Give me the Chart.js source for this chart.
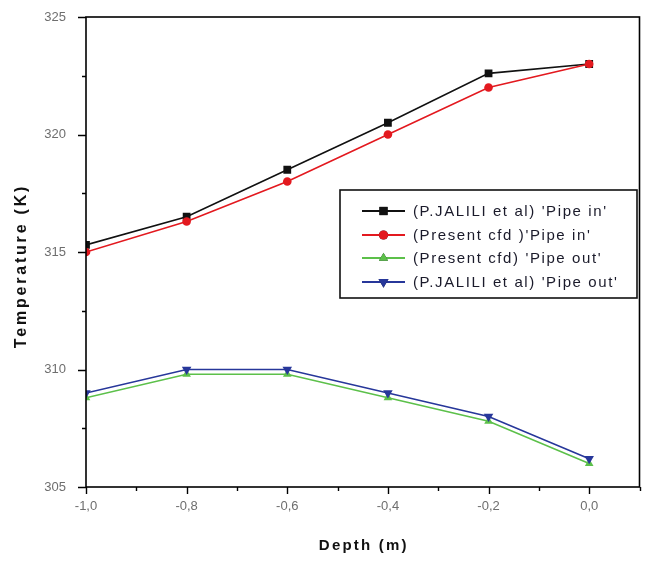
<!DOCTYPE html>
<html>
<head>
<meta charset="utf-8">
<script src="https://cdn.jsdelivr.net/npm/chart.js@4"></script>
<style>
  html, body { margin: 0; padding: 0; background: #fff; }
  #wrap { width: 645px; height: 561px; }
</style>
</head>
<body>
<div id="wrap"><canvas id="c" width="645" height="561"></canvas></div>
<script>
// Depth positions (m)
const depth = [-1.0, -0.8, -0.6, -0.4, -0.2, 0.0];

// Temperatures (K)
const jaliliPipeIn  = [315.3, 316.5, 318.5, 320.5, 322.6, 323.0];
const cfdPipeIn     = [315.0, 316.3, 318.0, 320.0, 322.0, 323.0];
const cfdPipeOut    = [308.8, 309.8, 309.8, 308.8, 307.8, 306.0];
const jaliliPipeOut = [309.0, 310.0, 310.0, 309.0, 308.0, 306.2];

const seriesNames = [
  "(P.JALILI et al) 'Pipe in'",
  "(Present cfd )'Pipe in'",
  "(Present cfd) 'Pipe out'",
  "(P.JALILI et al) 'Pipe out'"
];

const yTitle = 'Temperature (K)';
const xTitle = 'Depth (m)';

const toPoints = vals => vals.map((v, i) => ({ x: depth[i], y: v }));

const BLACK = '#111111', RED = '#e3191f', GREEN = '#5cc04a', BLUE = '#27379a';

function ds(label, vals, color, style, rotation, radius, order) {
  return {
    label, data: toPoints(vals),
    borderColor: color, backgroundColor: color,
    borderWidth: 1.6, pointStyle: style, pointRotation: rotation,
    pointRadius: radius, pointBorderWidth: 0, tension: 0, order
  };
}

const datasets = [
  ds(seriesNames[0], jaliliPipeIn, BLACK, 'rect', 0, 5.5, 4),
  ds(seriesNames[1], cfdPipeIn, RED, 'circle', 0, 4.3, 3),
  ds(seriesNames[2], cfdPipeOut, GREEN, 'triangle', 0, 5, 2),
  ds(seriesNames[3], jaliliPipeOut, BLUE, 'triangle', 180, 5.5, 1)
];

// Frame, tick marks, axis titles and the boxed legend
const decor = {
  id: 'decor',
  afterDraw(chart) {
    const ctx = chart.ctx;
    const a = chart.chartArea;
    const xs = chart.scales.x, ys = chart.scales.y;
    ctx.save();
    ctx.strokeStyle = '#000';
    ctx.lineWidth = 1.6;
    ctx.strokeRect(a.left, a.top, a.right - a.left, a.bottom - a.top);

    ctx.lineWidth = 1.4;
    ctx.beginPath();
    xs.ticks.forEach(t => {
      const px = Math.round(xs.getPixelForValue(t.value)) + 0.5;
      const major = Math.round(t.value * 10) % 2 === 0;
      ctx.moveTo(px, a.bottom);
      ctx.lineTo(px, a.bottom + (major ? 7 : 4));
    });
    ys.ticks.forEach(t => {
      const py = Math.round(ys.getPixelForValue(t.value)) + 0.5;
      const major = Math.abs(t.value / 5 - Math.round(t.value / 5)) < 1e-6;
      ctx.moveTo(a.left, py);
      ctx.lineTo(a.left - (major ? 8 : 4), py);
    });
    ctx.stroke();

    // Axis titles
    ctx.fillStyle = '#111';
    ctx.textAlign = 'center';
    ctx.textBaseline = 'middle';
    ctx.font = 'bold 15px "Liberation Sans", Arial, sans-serif';
    ctx.letterSpacing = '2.2px';
    ctx.fillText(xTitle, (a.left + a.right) / 2 + 1, 546);
    ctx.save();
    ctx.translate(22, 266);
    ctx.rotate(-Math.PI / 2);
    ctx.font = 'bold 16px "Liberation Sans", Arial, sans-serif';
    ctx.letterSpacing = '2.8px';
    ctx.fillText(yTitle, 0, 0);
    ctx.restore();

    // Legend box
    const box = { x: 340, y: 190, w: 297, h: 108 };
    ctx.letterSpacing = '0px';
    ctx.lineWidth = 1.6;
    ctx.strokeStyle = '#111';
    ctx.strokeRect(box.x, box.y, box.w, box.h);
    const rows = [211, 235, 258, 282];
    ctx.font = '15px "Liberation Sans", Arial, sans-serif';
    ctx.textAlign = 'left';
    chart.data.datasets.forEach((d, i) => {
      const y = rows[i];
      ctx.strokeStyle = d.borderColor;
      ctx.lineWidth = 1.8;
      ctx.beginPath();
      ctx.moveTo(362, y);
      ctx.lineTo(405, y);
      ctx.stroke();
      Chart.helpers.drawPoint(ctx, {
        pointStyle: d.pointStyle, rotation: d.pointRotation,
        radius: d.pointRadius + 0.3, borderWidth: 0
      }, 383.5, y);
      ctx.fillStyle = d.borderColor;
      ctx.fill();
      ctx.fillStyle = '#1a1a2a';
      ctx.letterSpacing = '1.6px';
      ctx.fillText(d.label, 413, y + 1);
      ctx.letterSpacing = '0px';
    });
    ctx.restore();
  }
};

const tickFont = { family: '"Liberation Sans", Arial, sans-serif', size: 13 };

new Chart(document.getElementById('c'), {
  type: 'line',
  data: { datasets },
  options: {
    responsive: false,
    animation: false,
    devicePixelRatio: 1,
    layout: { padding: { left: 0, top: 17, right: 5, bottom: 0 } },
    plugins: { legend: { display: false }, tooltip: { enabled: false } },
    scales: {
      x: {
        type: 'linear', min: -1.0, max: 0.1,
        grid: { display: false, drawTicks: false },
        border: { display: false },
        ticks: {
          stepSize: 0.1, autoSkip: false, maxRotation: 0, padding: 12,
          color: '#6e6e6e', font: tickFont,
          callback: v => (Math.round(v * 10) % 2 === 0)
            ? (Math.round(v * 10) / 10).toFixed(1).replace('-0.0', '0.0').replace('.', ',')
            : ''
        },
        afterFit: s => { s.height = 74; s.paddingLeft = 0; s.paddingRight = 0; }
      },
      y: {
        min: 305, max: 325,
        grid: { display: false, drawTicks: false },
        border: { display: false },
        ticks: {
          stepSize: 2.5, autoSkip: false, padding: 20,
          color: '#6e6e6e', font: tickFont,
          callback: v => (Math.abs(v / 5 - Math.round(v / 5)) < 1e-6) ? String(Math.round(v)) : ''
        },
        afterFit: s => { s.width = 86; s.paddingTop = 0; s.paddingBottom = 0; }
      }
    }
  },
  plugins: [decor]
});
</script>
</body>
</html>
